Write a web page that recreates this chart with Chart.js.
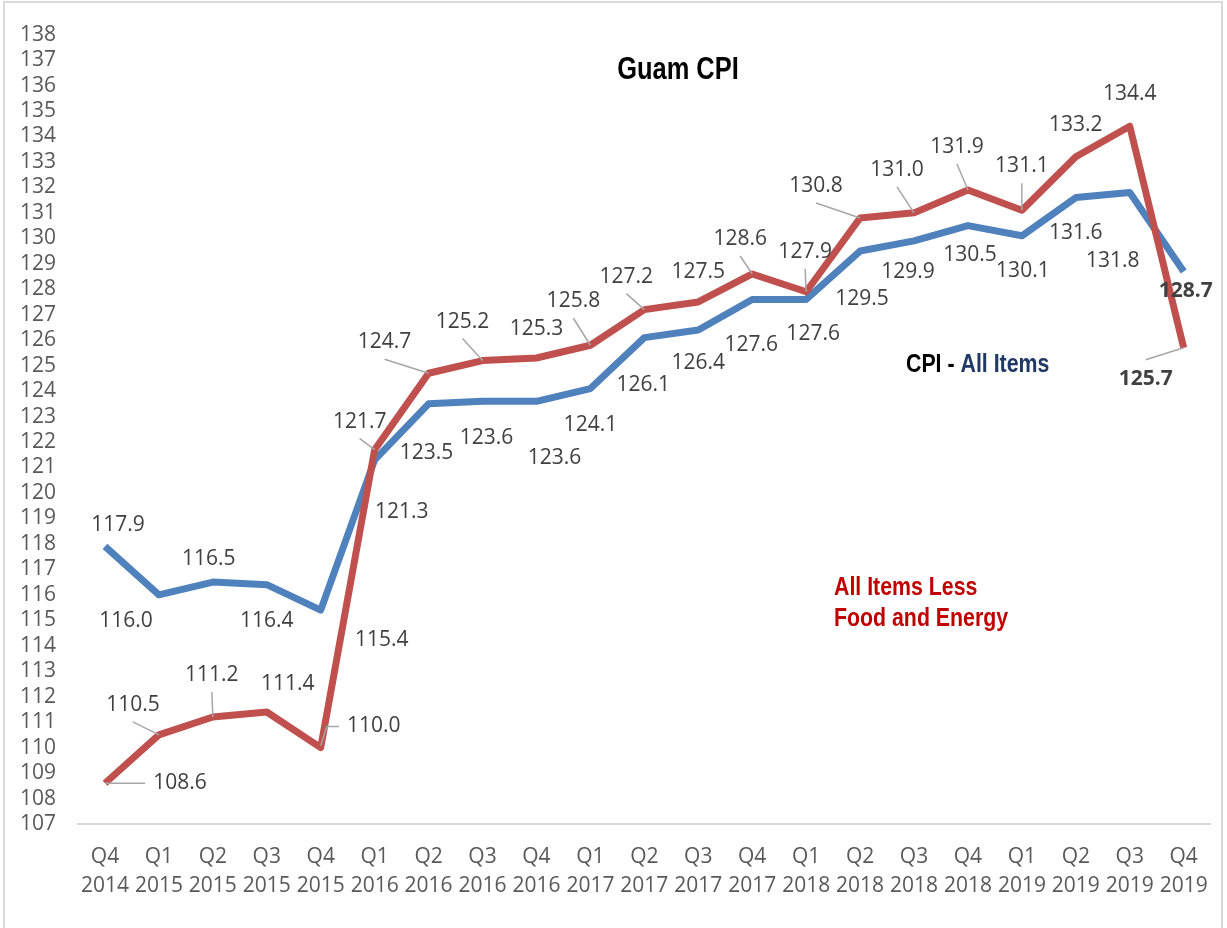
<!DOCTYPE html>
<html>
<head>
<meta charset="utf-8">
<title>Guam CPI</title>
<script src="https://cdn.jsdelivr.net/npm/chart.js@4/dist/chart.umd.min.js"></script>
<style>
  html, body { margin: 0; padding: 0; background: #fff; }
  #wrap { position: relative; width: 1227px; height: 928px; }
  #frame { position: absolute; left: 3px; top: 1px; width: 1220px; height: 940px; border: 2px solid #d9d9d9; box-sizing: border-box; pointer-events: none; }
  canvas { position: absolute; left: 0; top: 0; }
</style>
</head>
<body>
<div id="wrap">
  <canvas id="cpiChart" width="1227" height="928"></canvas>
  <div id="frame"></div>
</div>
<script>
// quarters along the x axis
const quarters = ['Q4','Q1','Q2','Q3','Q4','Q1','Q2','Q3','Q4','Q1','Q2','Q3','Q4','Q1','Q2','Q3','Q4','Q1','Q2','Q3','Q4'];
const years    = ['2014','2015','2015','2015','2015','2016','2016','2016','2016','2017','2017','2017','2017','2018','2018','2018','2018','2019','2019','2019','2019'];

// CPI - All Items
const allItems = [117.9, 116.0, 116.5, 116.4, 115.4, 121.3, 123.5, 123.6, 123.6, 124.1, 126.1, 126.4, 127.6, 127.6, 129.5, 129.9, 130.5, 130.1, 131.6, 131.8, 128.7];
// All Items Less Food and Energy
const lessFoodEnergy = [108.6, 110.5, 111.2, 111.4, 110.0, 121.7, 124.7, 125.2, 125.3, 125.8, 127.2, 127.5, 128.6, 127.9, 130.8, 131.0, 131.9, 131.1, 133.2, 134.4, 125.7];

const yMin = 107, yMax = 138, yStep = 1;

// where each value label sits relative to its point: [dx, dy, leader]
// leader: '' none, 'b' from label bottom, 't' from label top, 'l' from label left, 'e' elbow from left
const blueLabelPos = [
  [13,-21,''],[-33,26,''],[-4,-23,''],[0,36,''],[61,30,''],[27,52,''],[-2,49,''],[4,37,''],
  [18,57,''],[0,36,''],[-1,47,''],[0,33,''],[-1,46,''],[7,35,''],[2,48,''],[-6,31,''],
  [2,29,''],[1,35,''],[0,35,''],[-17,69,''],[2,20,'']
];
const redLabelPos = [
  [75,0,'l'],[-26,-30,'b'],[-1,-42,'b'],[21,-28,''],[53,-22,'e'],[-15,-28,'b'],[-44,-31,'b'],
  [-20,-39,'b'],[0,-29,''],[-17,-44,'b'],[-18,-33,'b'],[0,-30,''],[-12,-35,'b'],[-1,-40,'b'],
  [-44,-32,'b'],[-17,-43,'b'],[-11,-43,'b'],[0,-44,'b'],[0,-32,''],[0,-32,''],[-38,31,'t']
];

const BLUE = '#4f81bd';
const RED = '#c0504d';

const valueLabels = {
  id: 'valueLabels',
  afterDatasetsDraw(chart) {
    const ctx = chart.ctx;
    const sets = [
      { idx: 0, vals: lessFoodEnergy, pos: redLabelPos },
      { idx: 1, vals: allItems, pos: blueLabelPos }
    ];
    ctx.save();
    ctx.textAlign = 'center';
    ctx.textBaseline = 'middle';
    sets.forEach(s => {
      const meta = chart.getDatasetMeta(s.idx);
      meta.data.forEach((pt, i) => {
        const [dx, dy, leader] = s.pos[i];
        const lx = pt.x + dx, ly = pt.y + dy;
        const last = i === s.vals.length - 1;
        ctx.font = (last ? 'bold ' : '') + '21px "Open Sans"';
        const txt = s.vals[i].toFixed(1);
        const w = ctx.measureText(txt).width;
        if (leader) {
          ctx.strokeStyle = '#a6a6a6';
          ctx.lineWidth = 1.5;
          ctx.beginPath();
          if (leader === 'b') {
            ctx.moveTo(lx, ly + 17);
            ctx.lineTo(pt.x, pt.y);
          } else if (leader === 't') {
            ctx.moveTo(lx, ly - 19);
            ctx.lineTo(pt.x, pt.y);
          } else if (leader === 'l') {
            ctx.moveTo(lx - w / 2 - 8, ly);
            ctx.lineTo(pt.x, pt.y);
          } else if (leader === 'e') {
            ctx.moveTo(lx - w / 2 - 8, ly + 1);
            ctx.lineTo(pt.x + 6, ly + 1);
            ctx.lineTo(pt.x, pt.y - 2);
          }
          ctx.stroke();
        }
        ctx.fillStyle = '#404040';
        ctx.fillText(txt, lx, ly);
      });
    });
    ctx.restore();
  }
};

// narrow bold text: Liberation Sans squeezed horizontally
function narrowText(ctx, parts, x, y, size, align) {
  const sx = 0.82;
  ctx.save();
  ctx.font = 'bold ' + size + 'px "Liberation Sans", Arial, sans-serif';
  ctx.textBaseline = 'middle';
  ctx.textAlign = 'left';
  let total = 0;
  parts.forEach(p => { total += ctx.measureText(p[0]).width; });
  let cx = align === 'center' ? x - total * sx / 2 : x;
  ctx.translate(cx, y);
  ctx.scale(sx, 1);
  let off = 0;
  parts.forEach(p => {
    ctx.fillStyle = p[1];
    ctx.fillText(p[0], off, 0);
    off += ctx.measureText(p[0]).width;
  });
  ctx.restore();
}

const annotations = {
  id: 'annotations',
  afterDraw(chart) {
    const ctx = chart.ctx;
    narrowText(ctx, [['Guam CPI', '#000']], 678, 70, 31, 'center');
    narrowText(ctx, [['CPI - ', '#000'], ['All Items', '#1f3864']], 906, 365, 26, 'left');
    narrowText(ctx, [['All Items Less', '#c00000']], 834, 588, 26, 'left');
    narrowText(ctx, [['Food and Energy', '#c00000']], 834, 619, 26, 'left');
  }
};

Chart.defaults.font.family = '"Open Sans", sans-serif';

new Chart(document.getElementById('cpiChart'), {
  type: 'line',
  data: {
    labels: quarters.map((q, i) => [q, years[i]]),
    datasets: [
      {
        label: 'All Items Less Food and Energy',
        data: lessFoodEnergy,
        borderColor: RED,
        borderWidth: 7,
        pointRadius: 0,
        tension: 0,
        borderJoinStyle: 'round',
        fill: false
      },
      {
        label: 'CPI - All Items',
        data: allItems,
        borderColor: BLUE,
        borderWidth: 7,
        pointRadius: 0,
        tension: 0,
        borderJoinStyle: 'round',
        fill: false
      }
    ]
  },
  options: {
    responsive: false,
    animation: false,
    layout: { padding: { left: 18, right: 12, top: 27, bottom: 0 } },
    plugins: {
      legend: { display: false },
      title: { display: false },
      tooltip: { enabled: false }
    },
    scales: {
      x: {
        offset: true,
        grid: { display: false, drawTicks: false },
        border: { display: true, color: '#d9d9d9', width: 2 },
        ticks: {
          color: '#595959',
          font: { size: 21, lineHeight: 1.35 },
          padding: 19,
          maxRotation: 0,
          autoSkip: false
        },
        afterFit(scale) { scale.height = 104; }
      },
      y: {
        min: yMin,
        max: yMax,
        grid: { display: false, drawTicks: false },
        border: { display: false },
        ticks: {
          stepSize: yStep,
          autoSkip: false,
          color: '#595959',
          font: { size: 21 },
          padding: 22
        },
        afterFit(scale) { scale.width = 60; }
      }
    }
  },
  plugins: [valueLabels, annotations]
});
</script>
</body>
</html>
